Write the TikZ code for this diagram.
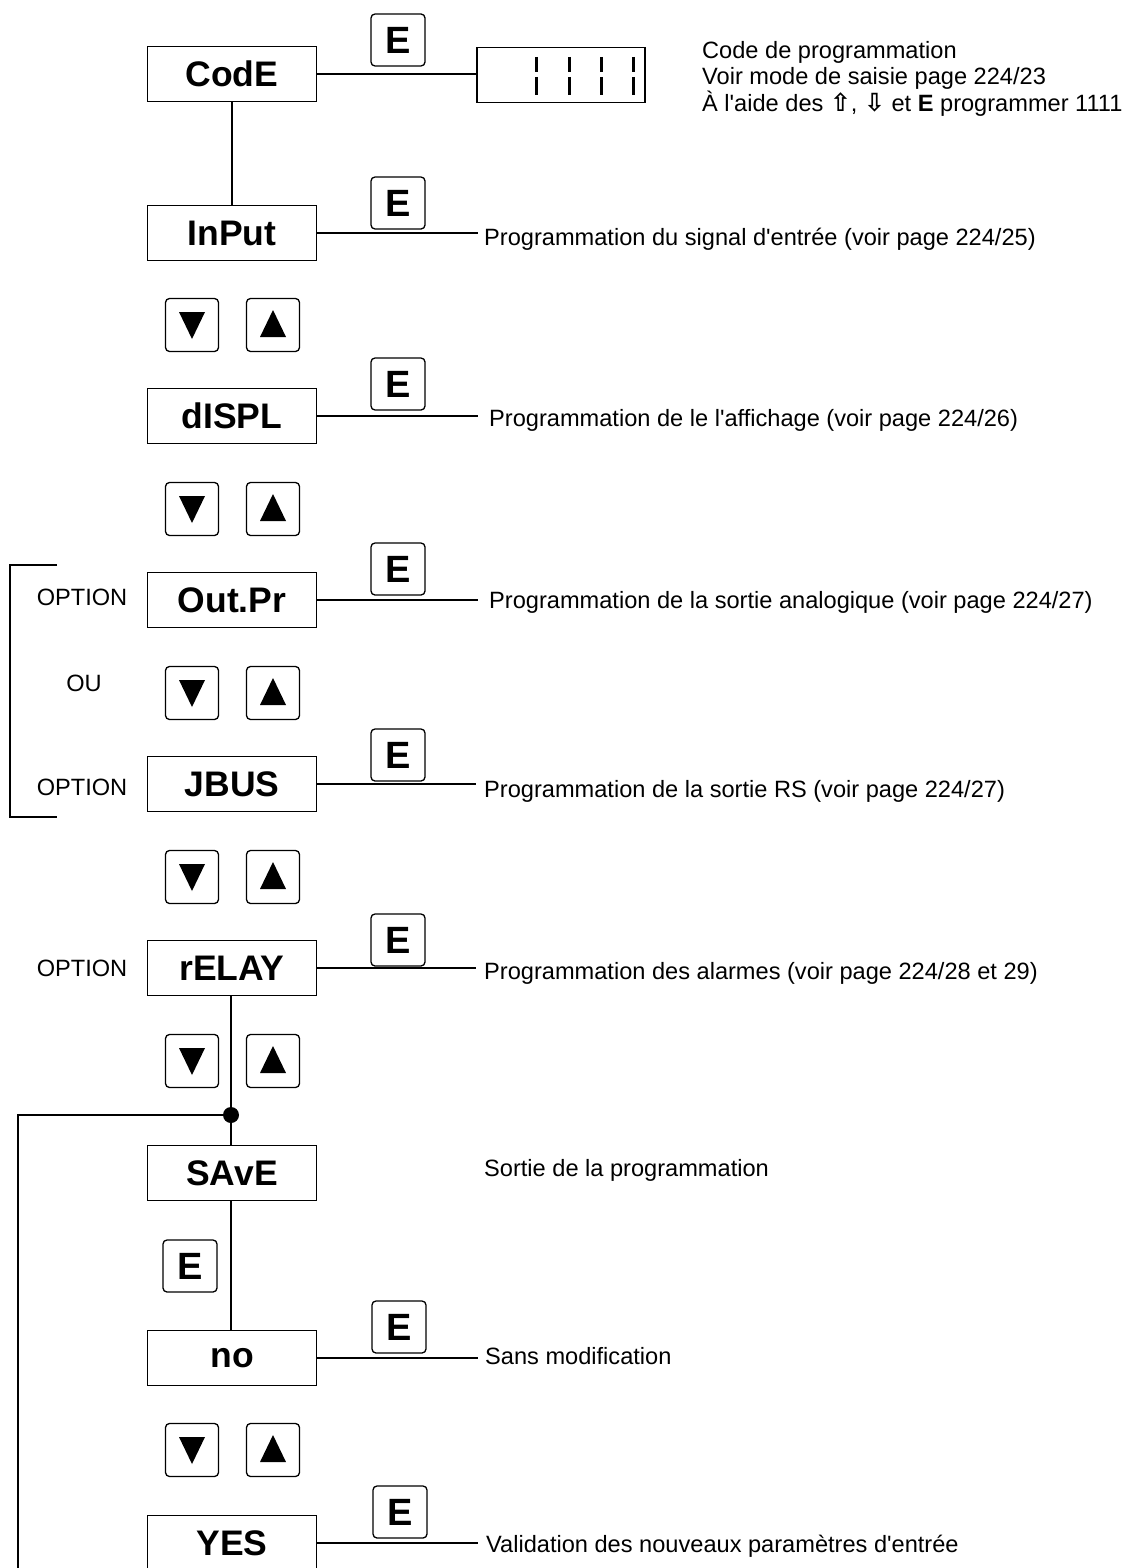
\documentclass[tikz,border=0pt]{standalone}
\usepackage{fontspec}
\setmainfont{Liberation Sans}
\newfontfamily\symfont{DejaVu Sans}
\usetikzlibrary{calc}
\newcommand\boxfont{\bfseries\fontsize{35.5}{35.5}\selectfont}
\newcommand\ekeyfont{\bfseries\fontsize{38}{38}\selectfont}
\newcommand\descfont{\fontsize{23.6}{26.5}\selectfont}
\newcommand\arrfont{\symfont\bfseries\fontsize{25}{20}\selectfont}
\newcommand\q{\textquotesingle}
\tikzset{
 box/.style={draw, line width=1.3pt, minimum width=169pt, minimum height=55pt, inner sep=0pt, font=\boxfont},
 ekey/.style={draw, rounded corners=4pt, line width=1.3pt, minimum width=54pt, minimum height=52pt, inner sep=0pt, font=\ekeyfont},
 akey/.style={draw, rounded corners=4pt, line width=1.3pt, minimum width=53pt, minimum height=53pt, inner sep=0pt},
 desc/.style={anchor=west, inner xsep=0pt, inner ysep=0pt, font=\descfont},
 lab/.style={inner sep=0pt, font=\descfont},
 conn/.style={line width=1.1pt},
 seg/.style={line width=3pt},
}
\newcommand\arrowpair[2]{%
 \node[akey] (#1d) at (192,#2) {};
 \node[akey] (#1u) at (273,#2) {};
 \fill[shift={(#1d.center)}] (-13,-13) -- (13,-13) -- (0,14) -- cycle;
 \fill[shift={(#1u.center)}] (-13,12) -- (13,12) -- (0,-15) -- cycle;
}
\begin{document}
\begin{tikzpicture}[x=1pt,y=-1pt]
\useasboundingbox (0,0) rectangle (1132,1568);
% main boxes
\node[box] (code) at (232,74) {CodE};
\node[box] (input) at (232,233) {InPut};
\node[box] (displ) at (232,416) {dISPL};
\node[box] (outpr) at (232,600) {Out.Pr};
\node[box] (jbus) at (232,784) {JBUS};
\node[box] (relay) at (232,968) {rELAY};
\node[box] (save) at (232,1173) {SAvE};
\node[box] (no) at (232,1358) {no};
\node[box] (yes) at (232,1543) {YES};
% E keys
\node[ekey] (ecode) at (398,40) {E};
\node[ekey] (einput) at (398,203) {E};
\node[ekey] (edispl) at (398,384) {E};
\node[ekey] (eoutpr) at (398,569) {E};
\node[ekey] (ejbus) at (398,755) {E};
\node[ekey] (erelay) at (398,940) {E};
\node[ekey] (esave) at (190,1266) {E};
\node[ekey] (eno) at (399,1327) {E};
\node[ekey] (eyes) at (400,1512) {E};
% arrow keys
\arrowpair{ka}{325}
\arrowpair{kb}{509}
\arrowpair{kc}{693}
\arrowpair{kd}{877}
\arrowpair{ke}{1061}
\arrowpair{kf}{1450}
% display
\node[draw, line width=1.3pt, minimum width=168pt, minimum height=55pt, inner sep=0pt] (disp) at (561,75) {};
\foreach \xx in {536,569,601,633}{
 \draw[seg] (\xx,57) -- (\xx,72);
 \draw[seg] (\xx,77) -- (\xx,95);
}
\draw[conn] (code.east) -- (code.east -| disp.west);
% top right text
\node[lab, anchor=north west, align=left] (codetxt) at (702,41) {Code de programmation\\Voir mode de saisie page 224/23\\À l\q aide des {\arrfont ⇧}, {\arrfont ⇩} et \textbf{E} programmer 1111};
% descriptions
\node[desc] (tinput) at (484,239) {Programmation du signal d\q entrée (voir page 224/25)};
\node[desc] (tdispl) at (489,420) {Programmation de le l\q affichage (voir page 224/26)};
\node[desc] (toutpr) at (489,602) {Programmation de la sortie analogique (voir page 224/27)};
\node[desc] (tjbus) at (484,791) {Programmation de la sortie RS (voir page 224/27)};
\node[desc] (trelay) at (484,973) {Programmation des alarmes (voir page 224/28 et 29)};
\node[desc] (tsave) at (484,1170) {Sortie de la programmation};
\node[desc] (tno) at (485,1356) {Sans modification};
\node[desc] (tyes) at (486,1546) {Validation des nouveaux paramètres d\q entrée};
\draw[conn] (input.east) -- (input.east -| 478,0);
\draw[conn] (displ.east) -- (displ.east -| 478,0);
\draw[conn] (outpr.east) -- (outpr.east -| 478,0);
\draw[conn] (jbus.east) -- (jbus.east -| 476,0);
\draw[conn] (relay.east) -- (relay.east -| 476,0);
\draw[conn] (no.east) -- (no.east -| 478,0);
\draw[conn] (yes.east) -- (yes.east -| 478,0);
% vertical connectors
\draw[conn] (code.south) -- (input.north);
\node[circle, fill, inner sep=0pt, minimum size=16pt] (j) at (231,1115) {};
\coordinate (loopc) at (18,1115);
\coordinate (loopend) at (18,1568);
\draw[conn] (relay.south -| j) -- (j.center) -- (save.north -| j);
\draw[conn] (j.center) -- (loopc) -- (loopend);
\draw[conn] (save.south -| j) -- (no.north -| j);
% option labels and bracket
\node[lab] (opt1) at (82,597) {OPTION};
\node[lab] (ou) at (84,683) {OU};
\node[lab] (opt2) at (82,787) {OPTION};
\node[lab] (opt3) at (82,968) {OPTION};
\draw[conn] (57,565) -- (10,565) -- (10,817) -- (57,817);
\end{tikzpicture}
\end{document}
